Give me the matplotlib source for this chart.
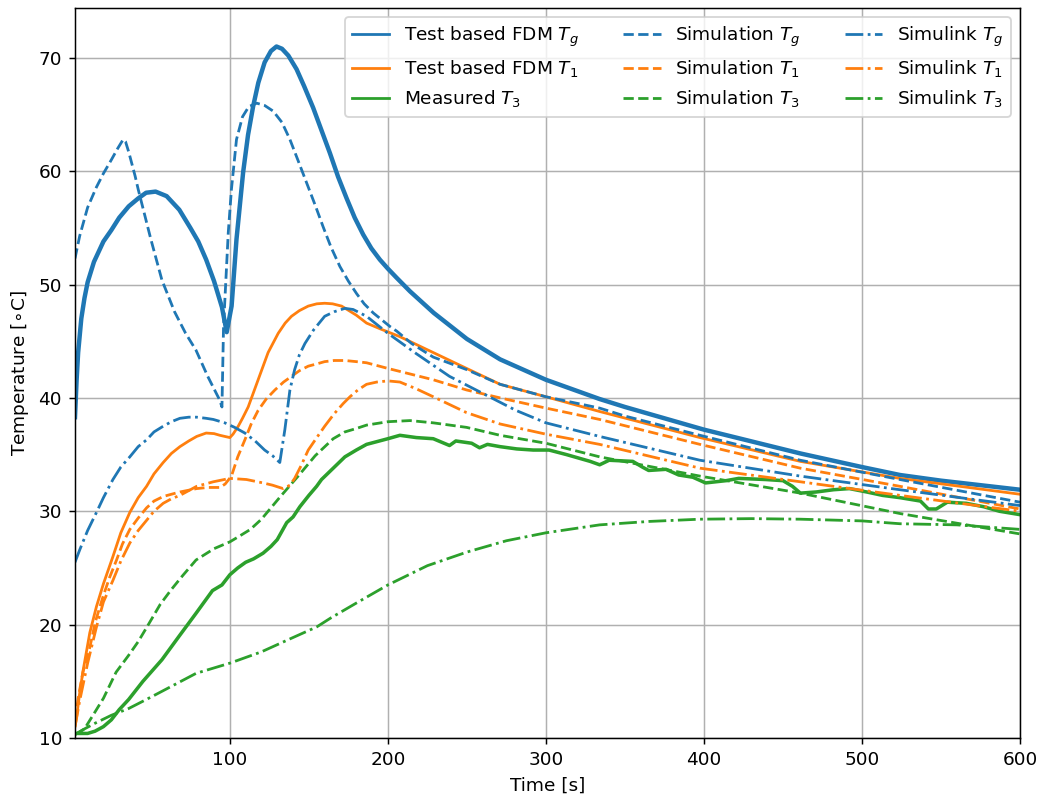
import matplotlib
matplotlib.use("Agg")
from matplotlib import pyplot as plt

# test based FDM, gas temperature
t_fdm_g = [2, 3, 4, 6, 8, 10, 14, 20, 25, 30, 36, 42, 47, 53, 60, 68, 75, 80, 85, 90, 95, 98,
           101.1, 104.2, 108.4, 111.5, 114.7, 118, 122, 126, 129.5, 133, 137, 142.2, 147,
           152.7, 158, 163.3, 168.5, 173.9, 179, 184.4, 189.5, 194.9, 200, 205.5, 214, 229, 250,
           271, 300, 334, 350, 400, 461, 500, 524, 550, 600]
fdm_g = [38.3, 41.5, 44.0, 47.0, 48.8, 50.2, 52.0, 53.8, 54.8, 55.9, 56.9, 57.6, 58.1, 58.2, 57.8,
         56.6, 55.0, 53.8, 52.2, 50.3, 48.0, 45.8, 48.1, 54.0, 59.9, 63.2, 65.7, 67.8, 69.6, 70.6,
         71.0, 70.8, 70.2, 69.0, 67.5, 65.6, 63.6, 61.6, 59.5, 57.6, 55.9, 54.4, 53.2, 52.2, 51.4,
         50.6, 49.4, 47.5, 45.2, 43.4, 41.6, 39.9, 39.2, 37.2, 35.1, 33.9, 33.2, 32.7, 31.9]

# test based FDM, T1
t_fdm_1 = [2, 3, 5, 7.2, 11.4, 15.6, 20, 26, 31, 36.7, 42, 47.3, 52, 57.8, 63, 68.4, 74, 79, 85,
           90, 93.7, 100, 102, 105.3, 108, 111.6, 117.9, 124.2, 130.6, 135, 139, 144, 149.6, 155,
           160, 165, 170.7, 180, 186.5, 195, 207.6, 228.7, 249.8, 271, 300, 334, 397.5, 461, 524,
           600]
fdm_1 = [11.0, 11.8, 14.0, 16.0, 19.3, 21.6, 23.6, 26.0, 28.1, 29.9, 31.2, 32.2, 33.3, 34.3, 35.1,
         35.7, 36.2, 36.6, 36.9, 36.85, 36.7, 36.5, 36.8, 37.5, 38.2, 39.2, 41.6, 44.0, 45.7, 46.6,
         47.2, 47.7, 48.1, 48.3, 48.35, 48.3, 48.1, 47.3, 46.6, 46.1, 45.4, 44.0, 42.6, 41.2,
         40.1, 38.8, 36.5, 34.4, 32.9, 31.5]

# measured T3
t_meas_3 = [2, 5, 10, 14.7, 20, 25, 30, 36, 45, 57, 68, 78.6, 89, 95, 100, 105, 110, 115, 121,
            126, 130, 136, 140, 144.3, 150, 154.9, 158, 165.4, 172.8, 180, 186.5, 200, 207.6,
            218, 228.7, 239, 243, 253, 258, 263, 271, 281.5, 292, 302, 313, 328, 334, 340, 355,
            361, 365, 376, 384, 393, 401, 414, 422, 439, 450, 456, 461, 471, 482, 492, 503, 513,
            524, 537, 542, 547, 554, 566, 577, 587, 600]
meas_3 = [10.4, 10.4, 10.4, 10.6, 11.0, 11.6, 12.5, 13.4, 15.0, 16.9, 19.0, 21.0, 23.0, 23.5,
          24.4, 25.0, 25.5, 25.8, 26.3, 26.9, 27.5, 29.0, 29.5, 30.4, 31.4, 32.2, 32.8, 33.8,
          34.8, 35.4, 35.9, 36.4, 36.7, 36.5, 36.4, 35.8, 36.2, 36.0, 35.6, 35.9, 35.7, 35.5,
          35.4, 35.4, 35.0, 34.4, 34.1, 34.5, 34.4, 33.9, 33.6, 33.7, 33.2, 33.0, 32.5, 32.7,
          32.9, 32.8, 32.7, 32.2, 31.6, 31.7, 31.9, 32.0, 31.7, 31.4, 31.2, 30.9, 30.2, 30.2,
          30.8, 30.7, 30.4, 30.0, 29.7]

# simulation
t_sim_g = [2, 5, 10, 15.6, 20, 25, 29, 32.5, 34, 36, 40, 42, 50, 57, 65, 72, 78.6, 86, 93.6, 95,
           96, 99, 101, 104.2, 108, 112, 117, 122, 127.4, 133, 138, 143, 148.5, 154, 159, 164,
           169.6, 175, 180.2, 185, 190.7, 196, 201.3, 205.5, 215, 228.7, 249.8, 271, 300, 334,
           350, 397.5, 461, 524, 600]
sim_g = [52.3, 54.3, 56.8, 58.6, 59.8, 61.0, 62.0, 62.8, 62.6, 61.7, 59.6, 58.4, 54.0, 50.4, 47.6,
         45.7, 44.2, 41.9, 39.8, 39.2, 46.3, 54.6, 58.4, 62.8, 64.8, 65.7, 66.0, 65.8, 65.3, 64.3,
         62.8, 61.0, 59.0, 57.0, 55.1, 53.3, 51.6, 50.3, 49.2, 48.3, 47.5, 46.9, 46.3, 45.9, 44.8,
         43.6, 42.5, 41.2, 40.1, 39.1, 38.4, 36.7, 34.5, 32.8, 30.8]

t_sim_1 = [2, 4, 7, 11.4, 15, 19.8, 24, 28.3, 32, 36.7, 42, 47.3, 52, 57.8, 63, 68.4, 79, 86,
           93.7, 97, 101, 105, 109.5, 113.5, 117.9, 123, 128.5, 134, 139, 144, 149.6, 155, 160,
           166, 172.8, 180, 186.5, 200, 228.7, 249.8, 271, 300, 334, 397.5, 461, 524, 600]
sim_1 = [11.5, 13.5, 15.8, 18.0, 20.3, 22.5, 24.2, 25.7, 27.1, 28.4, 29.4, 30.3, 30.9, 31.3, 31.5,
         31.7, 32.0, 32.1, 32.1, 32.4, 33.1, 34.8, 36.3, 37.7, 38.9, 39.9, 40.7, 41.4, 41.9, 42.4,
         42.8, 43.0, 43.2, 43.3, 43.3, 43.2, 43.1, 42.6, 41.6, 40.7, 40.0, 39.1, 38.1, 35.9,
         33.8, 32.2, 30.2]

t_sim_3 = [2, 8, 14.7, 20, 28, 36, 42, 48, 56, 63, 70, 78.6, 90, 100, 106, 113, 120, 126, 132,
           143.2, 154, 165.4, 172.8, 180, 186.5, 200, 214, 228.7, 249.8, 271, 300, 334, 397.5,
           461, 524, 600]
sim_3 = [10.3, 10.8, 12.3, 13.5, 15.8, 17.3, 18.5, 19.9, 21.8, 23.1, 24.3, 25.7, 26.7, 27.3, 27.8,
         28.4, 29.3, 30.3, 31.3, 33.1, 34.9, 36.4, 37.0, 37.3, 37.6, 37.9, 38.0, 37.8, 37.4, 36.7,
         36.0, 34.8, 33.1, 31.6, 29.8, 28.0]

# simulink
t_slk_g = [2, 5, 10, 15.6, 20, 26, 31, 36.7, 42, 47.3, 52, 57.8, 63, 68.4, 74, 79, 85, 89.5, 96.8,
           103, 109.5, 116, 122, 127, 131.6, 134.8, 138, 141, 144, 147.5, 153, 160, 166, 172.8,
           178, 186.5, 200, 218, 239, 260, 281, 300, 334, 397.5, 461, 524, 600]
slk_g = [25.5, 26.6, 28.3, 29.9, 31.2, 32.8, 33.9, 34.8, 35.7, 36.3, 37.0, 37.5, 37.9, 38.2, 38.3,
         38.3, 38.2, 38.1, 37.8, 37.4, 36.9, 36.2, 35.4, 34.9, 34.3, 37.2, 40.7, 42.5, 43.8, 44.8,
         46.0, 47.2, 47.6, 47.9, 47.8, 47.2, 45.7, 43.9, 41.9, 40.4, 38.9, 37.8, 36.6, 34.5,
         33.1, 31.9, 30.5]

t_slk_1 = [2, 5, 10, 15.6, 20, 26, 31, 36.7, 42, 47.3, 52, 57.8, 63, 68.4, 79, 89.5, 100, 110.5,
           121, 127, 133.7, 138, 141, 145, 149.6, 155, 160, 166, 171.7, 176, 181, 186.5, 193,
           200, 207.6, 218, 228.7, 249.8, 271, 300, 334, 397.5, 461, 524, 600]
slk_1 = [11.0, 13.3, 16.6, 19.8, 22.0, 23.9, 25.6, 27.2, 28.3, 29.2, 30.0, 30.7, 31.1, 31.4, 32.2,
         32.6, 32.9, 32.8, 32.5, 32.3, 32.0, 32.3, 32.9, 34.0, 35.4, 36.5, 37.5, 38.6, 39.5, 40.1,
         40.7, 41.2, 41.4, 41.5, 41.4, 40.8, 40.1, 38.7, 37.7, 36.8, 35.9, 33.8, 32.6, 31.4, 30.0]

t_slk_3 = [2, 8, 14.7, 25, 36, 50, 65, 78.6, 100, 120, 139, 155, 164, 180, 200, 225, 250, 275,
           300, 334, 365, 397.5, 430, 461, 500, 524, 560, 600]
slk_3 = [10.3, 10.8, 11.3, 12.0, 12.6, 13.6, 14.7, 15.7, 16.6, 17.6, 18.8, 19.8, 20.6, 21.9, 23.5,
         25.2, 26.4, 27.4, 28.1, 28.8, 29.1, 29.3, 29.35, 29.3, 29.15, 28.9, 28.8, 28.4]

fig = plt.figure(figsize=(7.8, 5.97), dpi=400 / 3)
ax = fig.add_axes([0.0721, 0.0729, 0.9087, 0.9171])

ax.plot(t_fdm_g, fdm_g, color="C0", linewidth=2.4, label=r"Test based FDM $T_g$")
ax.plot(t_fdm_1, fdm_1, color="C1", label=r"Test based FDM $T_1$")
ax.plot(t_meas_3, meas_3, color="C2", linewidth=1.9, label=r"Measured $T_3$")
ax.plot(t_sim_g, sim_g, "--", color="C0", label=r"Simulation $T_g$")
ax.plot(t_sim_1, sim_1, "--", color="C1", label=r"Simulation $T_1$")
ax.plot(t_sim_3, sim_3, "--", color="C2", label=r"Simulation $T_3$")
ax.plot(t_slk_g, slk_g, "-.", color="C0", label=r"Simulink $T_g$")
ax.plot(t_slk_1, slk_1, "-.", color="C1", label=r"Simulink $T_1$")
ax.plot(t_slk_3, slk_3, "-.", color="C2", label=r"Simulink $T_3$")

ax.set_xlim(2, 600)
ax.set_ylim(10, 74.4)
ax.set_xticks([100, 200, 300, 400, 500, 600])
ax.set_xlabel("Time [s]")
ax.set_ylabel(r"Temperature [$\circ$C]")
ax.grid(True)
leg = ax.legend(loc="upper right", ncol=3, columnspacing=2.4)
# keep legend handles at the normal width
for line in leg.get_lines():
    line.set_linewidth(1.5)

fig.savefig("out.png", dpi=400 / 3)
